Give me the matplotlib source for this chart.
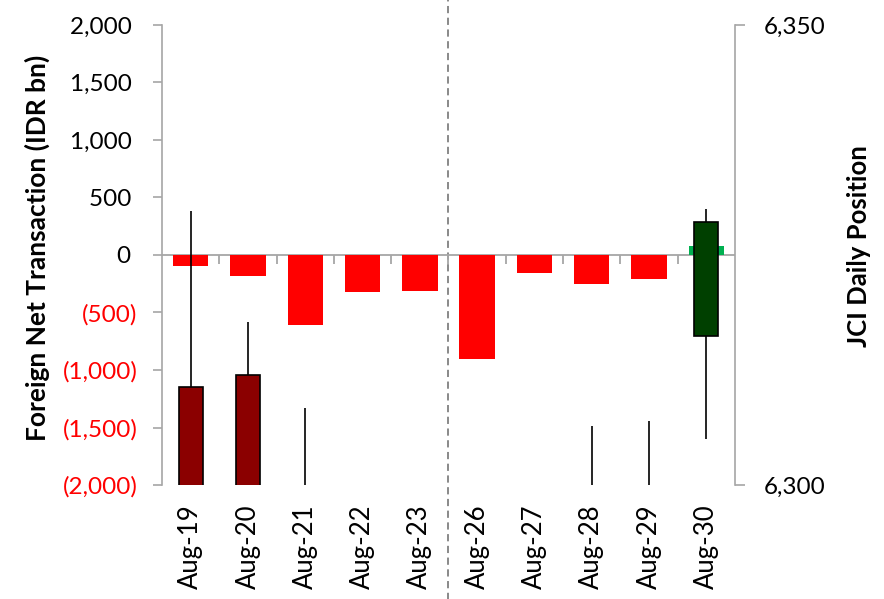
import matplotlib
matplotlib.use("Agg")
import matplotlib.pyplot as plt
import numpy as np

# Trading days
dates = ["Aug-19", "Aug-20", "Aug-21", "Aug-22", "Aug-23",
         "Aug-26", "Aug-27", "Aug-28", "Aug-29", "Aug-30"]

# Foreign net transaction (IDR bn)
foreign_net = [-100, -185, -605, -325, -310, -900, -160, -255, -210, 75]

# JCI daily OHLC
jci_open = [6310.7, 6312.0, 6296.0, 6260.0, 6255.0, 6230.0, 6220.0, 6278.0, 6283.0, 6316.2]
jci_high = [6329.8, 6317.7, 6308.4, 6275.0, 6268.0, 6240.0, 6285.0, 6306.4, 6307.0, 6330.0]
jci_low = [6284.0, 6288.0, 6270.0, 6240.0, 6245.0, 6190.0, 6215.0, 6270.0, 6260.0, 6305.0]
jci_close = [6295.7, 6295.0, 6252.0, 6253.0, 6255.0, 6212.0, 6278.0, 6283.0, 6290.0, 6328.6]

left_ticks = [-2000, -1500, -1000, -500, 0, 500, 1000, 1500, 2000]
right_ticks = [6300, 6350]

FONT = "Lato"
GRAY = "#A6A6A6"

fig = plt.figure(figsize=(8.84, 5.99), dpi=100)
ax = fig.add_axes([0.1833, 0.1903, 0.6481, 0.768])
x = np.arange(len(dates))

# Foreign flows as bars
bar_colors = ["#FF0000" if v < 0 else "#00B050" for v in foreign_net]
ax.bar(x, foreign_net, width=0.62, color=bar_colors, zorder=2)
ax.axhline(0, color=GRAY, lw=1.3, zorder=1)
# category separators on the zero line
ax.vlines(x[:-1] + 0.5, -80, 0, color=GRAY, lw=1.3, zorder=1)

ax.set_xlim(-0.5, len(dates) - 0.5)
ax.set_ylim(-2000, 2000)
ax.set_yticks(left_ticks)


def fmt(v):
    if v < 0:
        return "({:,})".format(-v)
    return "{:,} ".format(v)


ax.set_yticklabels([fmt(v) for v in left_ticks])
for lbl, v in zip(ax.get_yticklabels(), left_ticks):
    lbl.set_color("#FF0000" if v < 0 else "black")
    lbl.set_fontfamily(FONT)
    lbl.set_fontsize(17.5)

ax.set_xticks(x)
ax.set_xticklabels(dates, rotation=90, fontfamily=FONT, fontsize=18.5)
ax.tick_params(axis="x", length=0, pad=14)
ax.tick_params(axis="y", length=6.5, width=1.2, color=GRAY, pad=11)

for side in ["top", "right", "bottom"]:
    ax.spines[side].set_visible(False)
ax.spines["left"].set_color(GRAY)
ax.spines["left"].set_linewidth(1.2)

ax.set_ylabel("Foreign Net Transaction (IDR bn)", fontfamily=FONT,
              fontsize=19, fontweight="bold", labelpad=4)
ax.yaxis.set_label_coords(-0.195, 0.515)

# Week separator
ax.axvline(4.5, ymin=-0.25, ymax=1.055, color="#808080", lw=1.3,
           ls=(0, (4, 2.5)), clip_on=False, zorder=0)

# JCI candlesticks on secondary axis
ax2 = ax.twinx()
ax2.set_ylim(6300, 6350)
ax2.set_yticks(right_ticks)
ax2.set_yticklabels(["{:,}".format(v) for v in right_ticks], fontfamily=FONT, fontsize=17.5)
ax2.tick_params(axis="y", length=7, width=1.2, color=GRAY, pad=14)
for side in ["top", "left", "bottom"]:
    ax2.spines[side].set_visible(False)
ax2.spines["right"].set_color(GRAY)
ax2.spines["right"].set_linewidth(1.2)

ax2.vlines(x, jci_low, jci_high, color="black", lw=1.2, zorder=2)
o = np.array(jci_open)
c = np.array(jci_close)
candle_colors = ["#004000" if cc >= oo else "#8B0000" for oo, cc in zip(o, c)]
ax2.bar(x, c - o, bottom=o, width=0.42, color=candle_colors,
        edgecolor="black", linewidth=1.2, zorder=3)

ax2.set_ylabel("JCI Daily Position", fontfamily=FONT, fontsize=18.5,
               fontweight="bold", labelpad=20)
ax2.yaxis.set_label_coords(1.195, 0.52)

fig.savefig("out.png", dpi=100)
